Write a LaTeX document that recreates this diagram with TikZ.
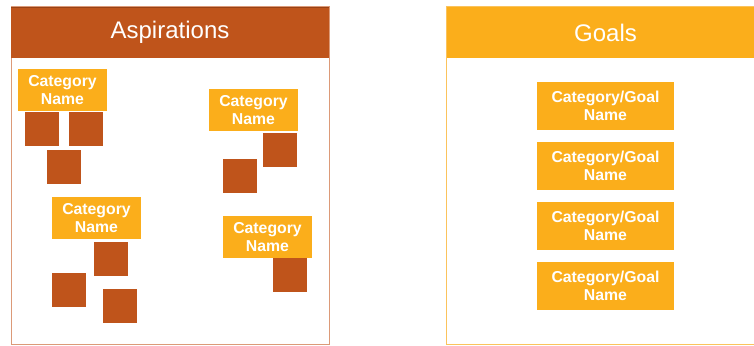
\documentclass[tikz,border=0pt]{standalone}
\usepackage{fontspec}
\setmainfont{Liberation Sans}
\definecolor{rust}{HTML}{BF541B}
\definecolor{amber}{HTML}{FBAE1B}
\definecolor{rustedge}{HTML}{DC9A78}
\definecolor{amberedge}{HTML}{FBC35C}
\tikzset{
  cat/.style={fill=amber, text=white, font=\bfseries\fontsize{15.8}{17.5}\selectfont, align=center, inner sep=0pt, minimum width=89pt, minimum height=42pt},
  goalbox/.style={fill=amber, text=white, font=\bfseries\fontsize{15.8}{17.5}\selectfont, align=center, inner sep=0pt, minimum width=137pt, minimum height=48pt},
  sq/.style={fill=rust, inner sep=0pt, minimum width=34pt, minimum height=34pt},
  title/.style={text=white, font=\fontsize{24}{26}\selectfont, inner sep=0pt}
}
\begin{document}
\begin{tikzpicture}[x=1pt,y=-1pt]
\useasboundingbox (0,0) rectangle (754,345);
\clip (0,0) rectangle (754,345);
% Aspirations frame
\draw[rustedge, line width=1pt] (11,7) rectangle (329,344);
\fill[rust] (11,7) rectangle (329,58);
\draw[rust!80!black, line width=0.8pt] (11,7) -- (329,7);
\node[title] (asp) at (170,32.5) {Aspirations};
% Goals frame
\draw[amberedge, line width=1pt] (446.5,7) rectangle (760,344);
\fill[amber] (446.5,7) rectangle (760,58);
\node[title] (goals) at (605.5,32.5) {Goals};
% Category 1
\node[cat] (c1) at (62.5,90) {Category\\Name};
\node[sq] (s11) at (42,129) {};
\node[sq] (s12) at (86,129) {};
\node[sq] (s13) at (64,167) {};
% Category 2
\node[cat] (c2) at (253.5,110) {Category\\Name};
\node[sq] (s21) at (280,150) {};
\node[sq] (s22) at (240,176) {};
% Category 3
\node[cat] (c3) at (96.5,218) {Category\\Name};
\node[sq] (s31) at (111,259) {};
\node[sq] (s32) at (69,290) {};
\node[sq] (s33) at (120,306) {};
% Category 4
\node[cat] (c4) at (267.5,237) {Category\\Name};
\node[sq] (s41) at (290,275) {};
% Goals
\node[goalbox] (g1) at (605.5,106) {Category/Goal\\Name};
\node[goalbox] (g2) at (605.5,166) {Category/Goal\\Name};
\node[goalbox] (g3) at (605.5,226) {Category/Goal\\Name};
\node[goalbox] (g4) at (605.5,286) {Category/Goal\\Name};
\end{tikzpicture}
\end{document}
